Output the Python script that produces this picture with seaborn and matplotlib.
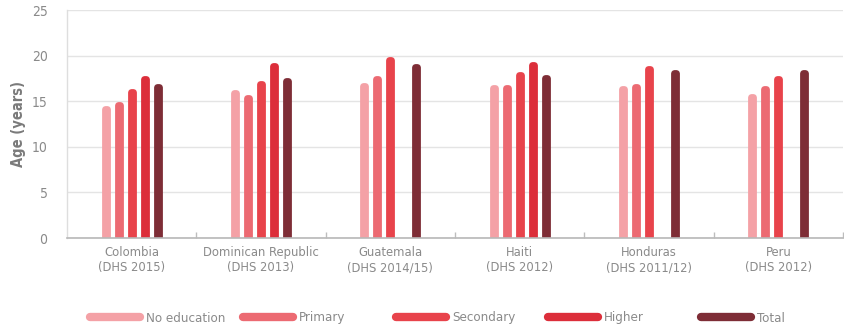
import numpy as np
import pandas as pd
import matplotlib
matplotlib.use("Agg")
import matplotlib.pyplot as plt
from matplotlib.lines import Line2D
from matplotlib.ticker import FixedLocator
import seaborn as sns

# Median age at first birth by mother's education level
countries = [
    "Colombia\n(DHS 2015)",
    "Dominican Republic\n(DHS 2013)",
    "Guatemala\n(DHS 2014/15)",
    "Haiti\n(DHS 2012)",
    "Honduras\n(DHS 2011/12)",
    "Peru\n(DHS 2012)",
]
levels = ["No education", "Primary", "Secondary", "Higher", "Total"]

no_education = [14.1, 15.9, 16.7, 16.4, 16.3, 15.5]
primary = [14.6, 15.4, 17.4, 16.4, 16.6, 16.3]
secondary = [16.0, 16.9, 19.5, 17.9, 18.5, 17.4]
higher = [17.4, 18.9, np.nan, 19.0, np.nan, np.nan]
total = [16.6, 17.2, 18.7, 17.5, 18.1, 18.1]

colors = ["#f4a1a6", "#ec6a72", "#e8434b", "#dc2e3a", "#7e2d36"]

series = [no_education, primary, secondary, higher, total]
df = pd.DataFrame(
    [(c, lvl, v) for lvl, vals in zip(levels, series) for c, v in zip(countries, vals)],
    columns=["country", "education", "age"],
)

sns.set_style("white")
plt.rcParams["font.family"] = ["DejaVu Sans"]
plt.rcParams["font.stretch"] = "condensed"

text_gray = "#8a8a8a"

fig = plt.figure(figsize=(8.44, 3.30), dpi=100)
ax = fig.add_axes([67 / 844, 1 - 238 / 330, 776 / 844, 228 / 330])

sns.barplot(
    data=df, x="country", y="age", hue="education",
    order=countries, hue_order=levels, palette=colors, saturation=1,
    width=0.5, gap=0.85, errorbar=None, legend=False, ax=ax,
)

# Thin bars with thick rounded outlines give pill-shaped columns
for patch in ax.patches:
    fc = patch.get_facecolor()
    patch.set_edgecolor(fc)
    patch.set_linewidth(4.9)
    patch.set_joinstyle("round")

ax.set_xlim(-0.5, len(countries) - 0.5)
ax.set_ylim(0, 25)
ax.set_yticks(range(0, 26, 5))
ax.yaxis.grid(True, color="#e4e4e4", linewidth=1.0)
ax.set_axisbelow(True)

ax.set_xlabel("")
ax.set_ylabel("Age (years)", color="#7a7a7a", fontsize=10.5, fontweight="bold", labelpad=4)

ax.tick_params(axis="x", which="major", length=0, pad=6, labelsize=9.3, labelcolor=text_gray)
ax.tick_params(axis="y", which="major", length=0, pad=14, labelsize=10, labelcolor=text_gray)
ax.xaxis.set_minor_locator(FixedLocator(np.arange(0.5, len(countries), 1.0)))
ax.tick_params(axis="x", which="minor", bottom=True, direction="in", length=4, width=1, color="#bdbdbd")

for side in ["top", "right"]:
    ax.spines[side].set_visible(False)
ax.spines["left"].set_color("#dedede")
ax.spines["left"].set_linewidth(1.0)
ax.spines["bottom"].set_color("#b8b8b8")
ax.spines["bottom"].set_linewidth(1.2)

# Legend entries spaced evenly below the chart
legend_x = [90, 243, 396, 548, 701]
for lvl, col, x in zip(levels, colors, legend_x):
    handle = Line2D([], [], color=col, linewidth=6.0, solid_capstyle="round")
    fig.legend(
        handles=[handle], labels=[lvl], loc="center left",
        bbox_to_anchor=(x / 844, 1 - 318 / 330), frameon=False,
        handlelength=3.8, handletextpad=0.45, borderpad=0, borderaxespad=0,
        prop={"size": 9.5}, labelcolor=text_gray,
    )

fig.savefig("out.png", dpi=100)
